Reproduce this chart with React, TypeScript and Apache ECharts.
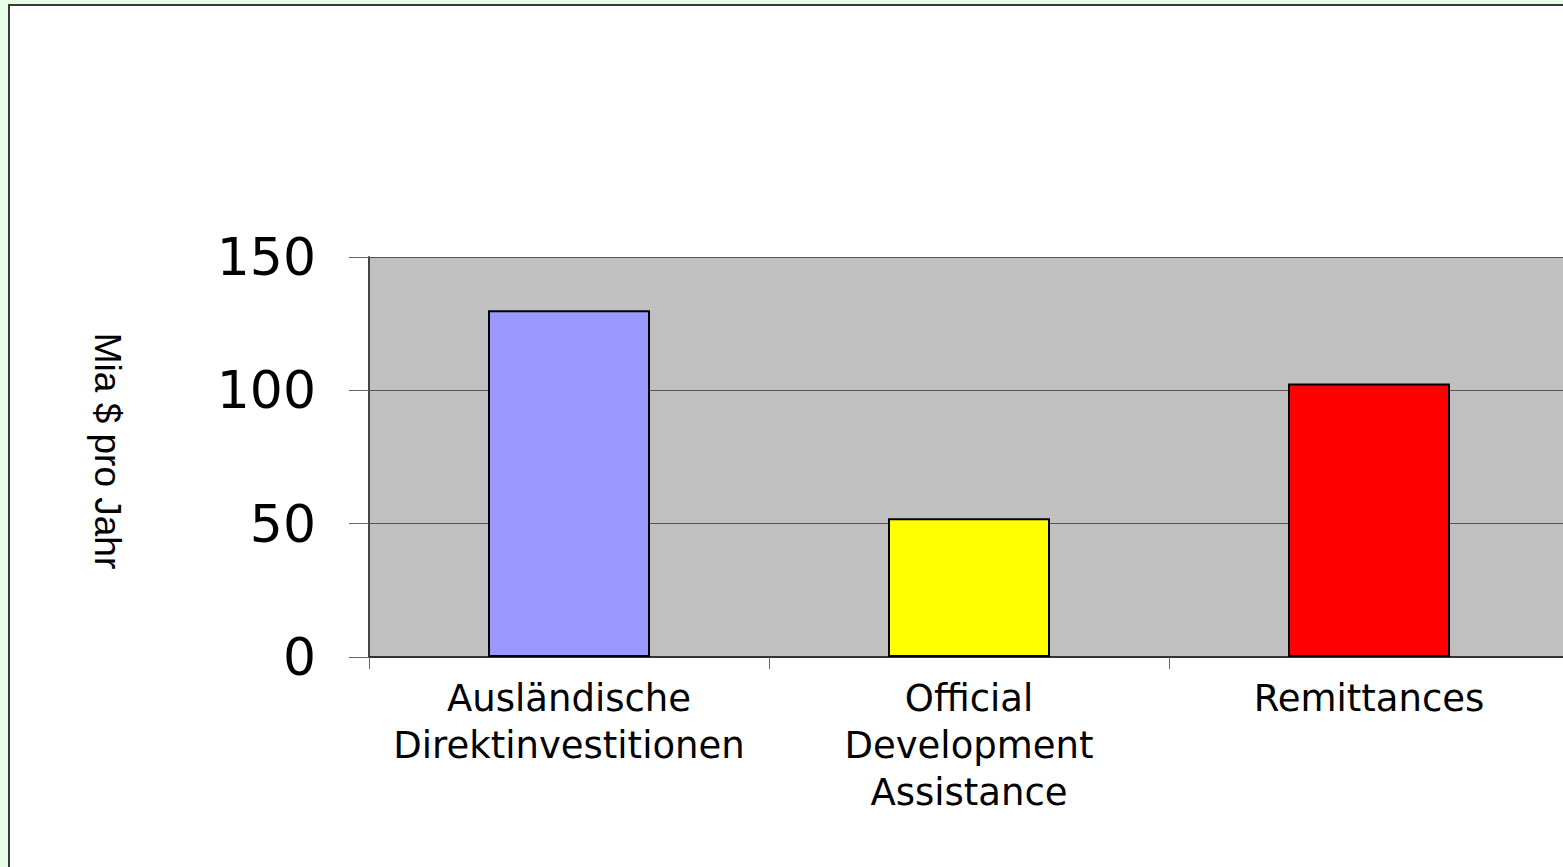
import React, { useEffect, useRef } from "react";
import * as echarts from "echarts";

const categories = [
  "Ausländische\nDirektinvestitionen",
  "Official\nDevelopment\nAssistance",
  "Remittances",
];
const values = [130, 52, 102.6];
const barColors = ["#9999ff", "#ffff00", "#ff0000"];
const yAxisTitle = "Mia $ pro Jahr";
const yMin = 0;
const yMax = 150;
const yInterval = 50;

const FONT = "'Liberation Sans', Arial, Helvetica, sans-serif";
const WIDE = "'DejaVu Sans', 'Liberation Sans', Arial, sans-serif";

export default function App() {
  const ref = useRef<HTMLDivElement>(null);

  useEffect(() => {
    if (!ref.current) return;
    const chart = echarts.init(ref.current, undefined, { renderer: "svg" });
    chart.setOption({
      animation: false,
      backgroundColor: "transparent",
      grid: {
        left: 369,
        top: 257,
        width: 1200,
        height: 400,
        show: true,
        backgroundColor: "#c0c0c0",
        borderWidth: 0,
        containLabel: false,
      },
      xAxis: {
        type: "category",
        data: categories,
        axisLine: { show: true, lineStyle: { color: "#333", width: 2 } },
        axisTick: {
          show: true,
          length: 12,
          alignWithLabel: false,
          lineStyle: { color: "#666", width: 1 },
        },
        axisLabel: {
          interval: 0,
          margin: 18,
          color: "#000",
          fontFamily: WIDE,
          fontSize: 37,
          lineHeight: 47,
        },
        splitLine: { show: false },
      },
      yAxis: {
        type: "value",
        min: yMin,
        max: yMax,
        interval: yInterval,
        axisLine: { show: true, lineStyle: { color: "#444", width: 2 } },
        axisTick: { show: true, length: 20, lineStyle: { color: "#666", width: 1 } },
        axisLabel: {
          margin: 53,
          color: "#000",
          fontFamily: WIDE,
          fontSize: 52,
        },
        splitLine: { show: true, lineStyle: { color: "#555", width: 1 } },
      },
      graphic: [
        {
          type: "text",
          x: 107,
          y: 451,
          rotation: -Math.PI / 2,
          style: {
            text: yAxisTitle,
            fill: "#000",
            fontFamily: FONT,
            fontSize: 37,
            align: "center",
            verticalAlign: "middle",
          },
        },
      ],
      series: [
        {
          type: "bar",
          barWidth: "40.5%",
          data: values.map((v, i) => ({
            value: v,
            itemStyle: { color: barColors[i], borderColor: "#000", borderWidth: 2 },
          })),
        },
      ],
    });
    return () => chart.dispose();
  }, []);

  return (
    <div
      style={{
        position: "fixed",
        left: 0,
        top: 0,
        width: 1563,
        height: 867,
        overflow: "hidden",
        background: "#e6ffe6",
      }}
    >
      <div
        style={{
          position: "absolute",
          left: 8,
          top: 4,
          width: 1600,
          height: 900,
          background: "#ffffff",
          borderLeft: "2px solid #3a3a3a",
          borderTop: "2px solid #3a3a3a",
        }}
      />
      <div
        ref={ref}
        style={{ position: "absolute", left: 0, top: 0, width: 1700, height: 867 }}
      />
    </div>
  );
}
